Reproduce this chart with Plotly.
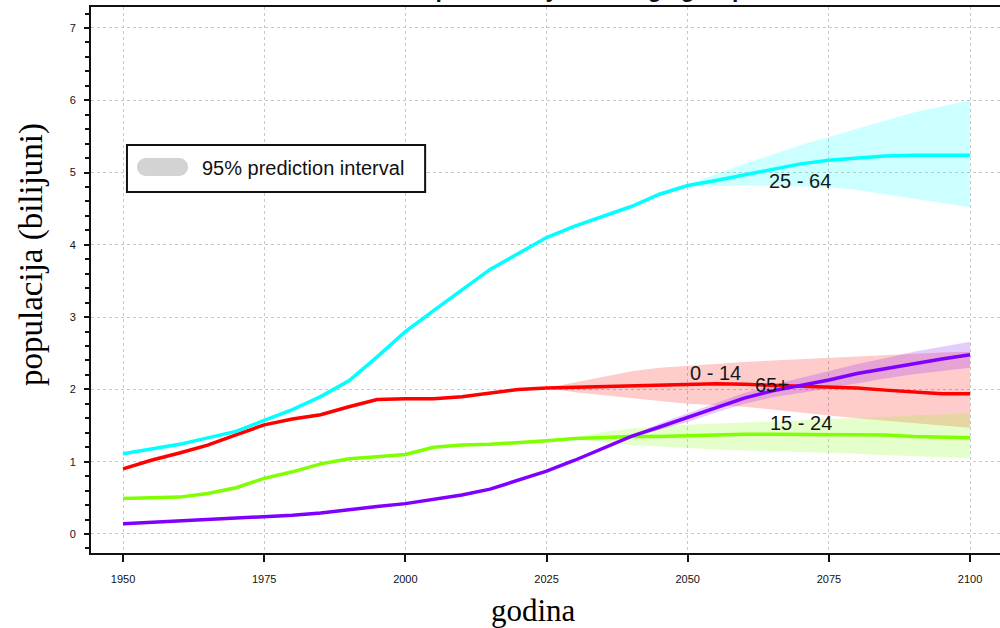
import plotly.graph_objects as go

# ---------------- data ----------------
years = list(range(1950, 2101, 5))

pop_0_14 = [0.90, 1.02, 1.12, 1.23, 1.37, 1.51, 1.59, 1.65, 1.76, 1.86, 1.87, 1.87, 1.90, 1.95, 2.00,
            2.02, 2.03, 2.05, 2.06, 2.07, 2.08, 2.08, 2.07, 2.06, 2.04, 2.03, 2.02, 1.99, 1.96, 1.94, 1.94]
pop_15_24 = [0.49, 0.50, 0.51, 0.56, 0.64, 0.77, 0.86, 0.97, 1.04, 1.07, 1.10, 1.20, 1.23, 1.24, 1.26,
             1.29, 1.32, 1.34, 1.35, 1.35, 1.36, 1.38, 1.38, 1.38, 1.38, 1.38, 1.38, 1.37, 1.35, 1.34, 1.33]
pop_25_64 = [1.11, 1.18, 1.24, 1.33, 1.42, 1.57, 1.72, 1.90, 2.12, 2.45, 2.80, 3.09, 3.37, 3.66, 3.88,
             4.10, 4.26, 4.40, 4.53, 4.70, 4.82, 4.89, 4.97, 5.05, 5.12, 5.17, 5.20, 5.23, 5.24, 5.24, 5.24]
pop_65p = [0.14, 0.16, 0.17, 0.19, 0.21, 0.23, 0.26, 0.29, 0.34, 0.38, 0.42, 0.48, 0.54, 0.62, 0.74,
           0.87, 1.02, 1.19, 1.35, 1.48, 1.61, 1.75, 1.88, 1.98, 2.05, 2.13, 2.22, 2.29, 2.36, 2.42, 2.48]

# 95% prediction intervals (projection period)
pi_years_0_14 = list(range(2025, 2101, 5))
pi_lo_0_14 = [2.02, 1.96, 1.92, 1.88, 1.84, 1.80, 1.78, 1.76, 1.72, 1.68, 1.64, 1.60, 1.56, 1.53, 1.50, 1.47]
pi_hi_0_14 = [2.02, 2.10, 2.18, 2.25, 2.30, 2.33, 2.36, 2.38, 2.40, 2.42, 2.44, 2.46, 2.48, 2.50, 2.51, 2.52]

pi_years_15_24 = list(range(2030, 2101, 5))
pi_lo_15_24 = [1.31, 1.27, 1.23, 1.21, 1.19, 1.17, 1.16, 1.15, 1.13, 1.12, 1.11, 1.09, 1.08, 1.06, 1.05]
pi_hi_15_24 = [1.33, 1.41, 1.46, 1.49, 1.51, 1.53, 1.54, 1.56, 1.57, 1.59, 1.60, 1.62, 1.64, 1.66, 1.67]

pi_years_25_64 = list(range(2050, 2101, 5))
pi_lo_25_64 = [4.81, 4.81, 4.82, 4.82, 4.81, 4.80, 4.76, 4.70, 4.64, 4.58, 4.52]
pi_hi_25_64 = [4.83, 4.98, 5.12, 5.25, 5.38, 5.49, 5.61, 5.72, 5.83, 5.92, 6.00]

pi_years_65p = list(range(2040, 2101, 5))
pi_lo_65p = [1.34, 1.44, 1.55, 1.68, 1.80, 1.89, 1.95, 2.01, 2.08, 2.15, 2.21, 2.26, 2.30]
pi_hi_65p = [1.36, 1.53, 1.67, 1.81, 1.95, 2.06, 2.16, 2.25, 2.35, 2.43, 2.52, 2.59, 2.66]

x_ticks = [1950, 1975, 2000, 2025, 2050, 2075, 2100]
y_ticks = [0, 1, 2, 3, 4, 5, 6, 7]

group_labels = ["0 - 14", "15 - 24", "25 - 64", "65+"]
label_x = [2055.0, 2070.1, 2069.9, 2064.9]
label_y = [2.23, 1.535, 4.88, 2.06]

title_text = "World Population by broad age groups"
x_title = "godina"
y_title = "populacija (bilijuni)"
legend_text = "95% prediction interval"

# ---------------- figure ----------------
groups = [
    (pop_0_14, pi_years_0_14, pi_lo_0_14, pi_hi_0_14, "#ff0000", "rgba(255,0,0,0.2)"),
    (pop_15_24, pi_years_15_24, pi_lo_15_24, pi_hi_15_24, "#7fff00", "rgba(127,255,0,0.2)"),
    (pop_25_64, pi_years_25_64, pi_lo_25_64, pi_hi_25_64, "#00ffff", "rgba(0,255,255,0.2)"),
    (pop_65p, pi_years_65p, pi_lo_65p, pi_hi_65p, "#7f00ff", "rgba(127,0,255,0.2)"),
]

fig = go.Figure()

for (vals, py, lo, hi, col, fcol), name in zip(groups, group_labels):
    fig.add_trace(go.Scatter(
        x=py + py[::-1], y=hi + lo[::-1], fill="toself", fillcolor=fcol,
        line=dict(width=0), mode="lines", hoverinfo="skip", showlegend=False,
        name=name + " PI"))

for (vals, py, lo, hi, col, fcol), name in zip(groups, group_labels):
    fig.add_trace(go.Scatter(
        x=years, y=vals, mode="lines", line=dict(color=col, width=3.5),
        name=name, showlegend=False))

label_font = dict(family="Liberation Sans, Arial", size=20, color="#161616")
for t, lx, ly in zip(group_labels, label_x, label_y):
    fig.add_annotation(x=lx, y=ly, xref="x", yref="y", text=t, showarrow=False,
                       font=label_font, xanchor="center", yanchor="middle")

# legend box (drawn manually to match the boxed pill swatch)
bx0, bx1, by0, by1 = 1950.7, 2003.5, 4.73, 5.38
fig.add_shape(type="rect", xref="x", yref="y", x0=bx0, x1=bx1, y0=by0, y1=by1,
              line=dict(color="#111111", width=2), fillcolor="white", layer="above")
sx0, sx1, sy0, sy1 = 1952.48, 1961.51, 4.952, 5.201
rx, ry = 1.594, (sy1 - sy0) / 2
ym = (sy0 + sy1) / 2
k = 0.5523
path = (f"M {sx0+rx},{sy1} L {sx1-rx},{sy1} "
        f"C {sx1-rx+k*rx},{sy1} {sx1},{ym+k*ry} {sx1},{ym} "
        f"C {sx1},{ym-k*ry} {sx1-rx+k*rx},{sy0} {sx1-rx},{sy0} "
        f"L {sx0+rx},{sy0} "
        f"C {sx0+rx-k*rx},{sy0} {sx0},{ym-k*ry} {sx0},{ym} "
        f"C {sx0},{ym+k*ry} {sx0+rx-k*rx},{sy1} {sx0+rx},{sy1} Z")
fig.add_shape(type="path", xref="x", yref="y", path=path, fillcolor="#d3d3d3",
              line=dict(width=0), layer="above")
fig.add_annotation(x=1963.6, y=5.065, xref="x", yref="y", text=legend_text, showarrow=False,
                   font=dict(family="Liberation Sans, Arial", size=20, color="#111111"),
                   xanchor="left", yanchor="middle")

# axis titles
fig.add_annotation(x=-0.0649, y=0.5458, xref="paper", yref="paper", text=y_title,
                   textangle=-90, showarrow=False,
                   font=dict(family="Liberation Serif, Times New Roman", size=33, color="black"),
                   xanchor="center", yanchor="middle")
fig.add_annotation(x=0.4873, y=-0.1044, xref="paper", yref="paper", text=x_title,
                   showarrow=False,
                   font=dict(family="Liberation Serif, Times New Roman", size=31, color="black"),
                   xanchor="center", yanchor="middle")

# partially visible title (cropped at the top in the reference)
fig.add_annotation(x=2025, y=1, xref="x", yref="paper", text="<b>" + title_text + "</b>",
                   showarrow=False, yanchor="bottom", yshift=3,
                   font=dict(family="Liberation Sans, Arial", size=23, color="#111111"))

tick_font = dict(family="Liberation Sans, Arial", size=11, color="#111111")
fig.update_xaxes(
    range=[1944.33, 2105.3], tickmode="array", tickvals=x_ticks,
    ticktext=[str(v) for v in x_ticks], ticks="outside", ticklen=7, tickwidth=1.5,
    tickcolor="#111111", showline=True, linecolor="#111111", linewidth=2, mirror=True,
    showgrid=True, gridcolor="#c8c8c8", gridwidth=1, griddash="3px,3px",
    zeroline=False, tickfont=tick_font, ticklabelstandoff=8, automargin=False)
fig.update_yaxes(
    range=[-0.263, 7.29], tickmode="array", tickvals=y_ticks,
    ticktext=[str(v) for v in y_ticks], ticks="outside", ticklen=5, tickwidth=1.5,
    tickcolor="#111111", showline=True, linecolor="#111111", linewidth=2, mirror=False,
    showgrid=True, gridcolor="#c8c8c8", gridwidth=1, griddash="3px,3px",
    zeroline=False, tickfont=tick_font, ticklabelstandoff=6, automargin=False,
    minor=dict(tick0=0, dtick=0.2, ticks="outside", ticklen=4, tickwidth=1.5,
               tickcolor="#111111", showgrid=False))

fig.update_layout(width=1000, height=628, margin=dict(l=91, r=0, t=7, b=75),
                  plot_bgcolor="white", paper_bgcolor="white", showlegend=False)

fig.write_html("out.html", config={"displayModeBar": False},
               post_script="document.body.style.margin='0';document.body.style.overflow='hidden';")
